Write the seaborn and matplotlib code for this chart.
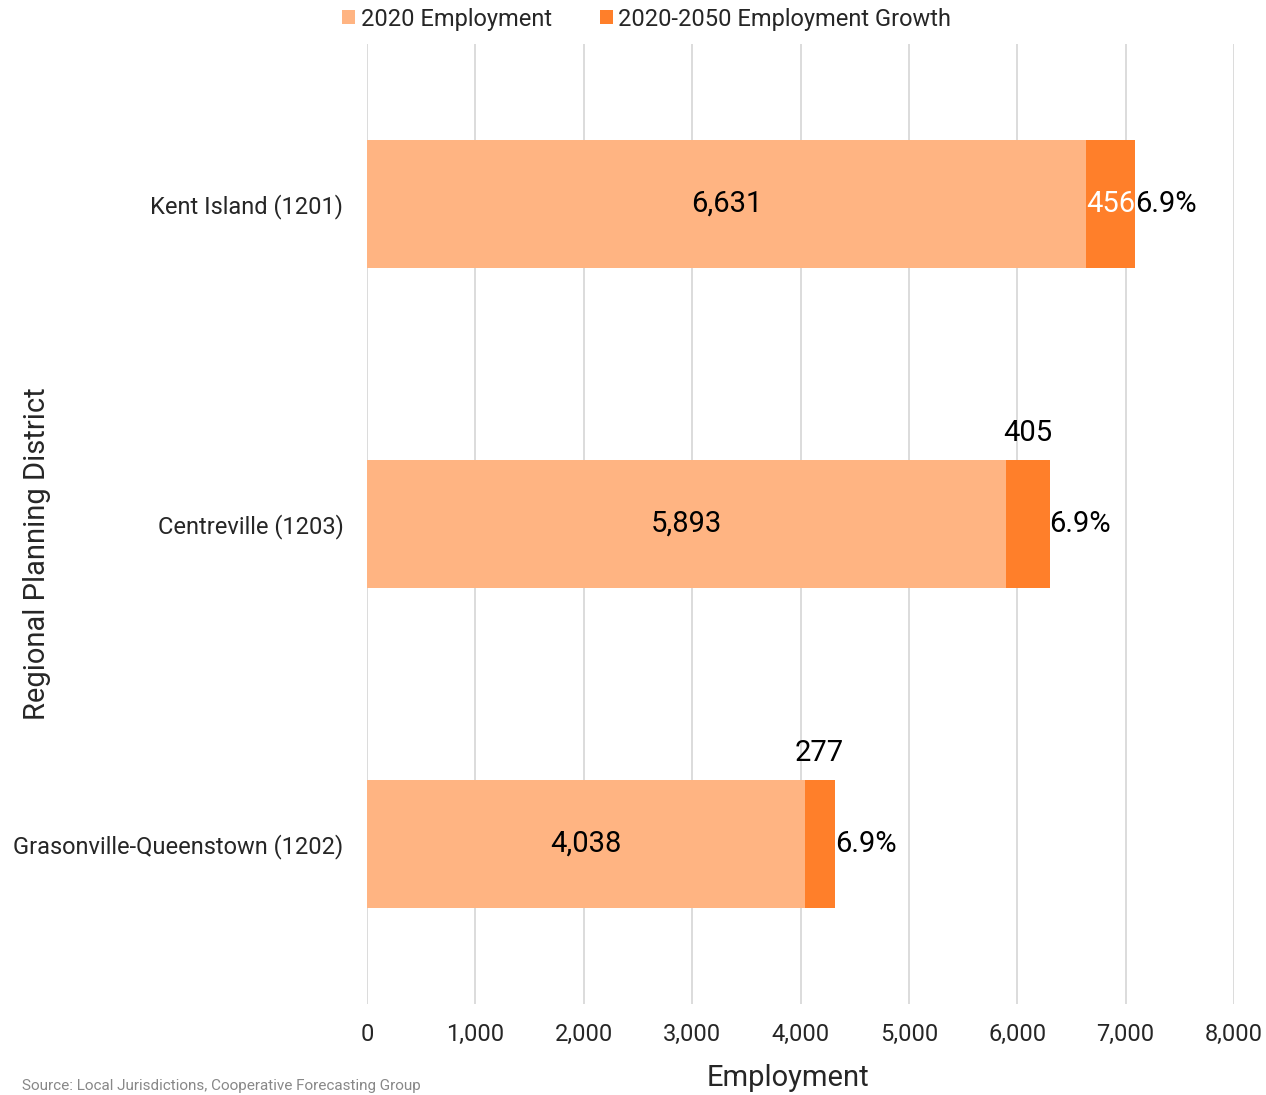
import matplotlib
matplotlib.use("Agg")
import matplotlib.pyplot as plt
import seaborn as sns
import pandas as pd
from matplotlib.patches import Patch

districts = ["Kent Island (1201)", "Centreville (1203)", "Grasonville-Queenstown (1202)"]
emp_2020 = [6631, 5893, 4038]
growth = [456, 405, 277]
growth_pct = ["6.9%", "6.9%", "6.9%"]
x_ticks = [0, 1000, 2000, 3000, 4000, 5000, 6000, 7000, 8000]

sns.set_theme(style="white")
plt.rcParams["font.family"] = ["Roboto", "DejaVu Sans"]

LIGHT = "#FFB482"
DARK = "#FF7F2A"

df = pd.DataFrame({
    "district": districts,
    "base": emp_2020,
    "growth": growth,
    "total": [b + g for b, g in zip(emp_2020, growth)],
})

fig = plt.figure(figsize=(12.66, 10.95), dpi=100)
ax = fig.add_axes([367/1266, 1 - 1004/1095, (1234 - 367)/1266, (1004 - 44)/1095])

sns.barplot(data=df, y="district", x="total", orient="h", color=DARK,
            width=0.4, saturation=1, ax=ax, zorder=2, linewidth=0)
sns.barplot(data=df, y="district", x="base", orient="h", color=LIGHT,
            width=0.4, saturation=1, ax=ax, zorder=3, linewidth=0)

ax.set_xlim(0, 8000)
ax.set_ylim(2.5, -0.5)
ax.set_xticks(x_ticks)
ax.set_xticklabels([f"{v:,}" for v in x_ticks], fontsize=17)
ax.tick_params(axis="y", labelsize=17, length=0, pad=17)
ax.tick_params(axis="x", length=0, pad=14)
ax.grid(axis="x", color="#d9d9d9", linewidth=1.3, zorder=0)
ax.set_axisbelow(True)
for s in ax.spines.values():
    s.set_visible(False)

ax.set_xlabel("Employment", fontsize=21)
ax.xaxis.set_label_coords((788 - 367) / 867, -0.0625)
ax.set_ylabel("Regional Planning District", fontsize=21)
ax.yaxis.set_label_coords((51 - 367) / 867, 0.469)

for i, (b, g, p) in enumerate(zip(emp_2020, growth, growth_pct)):
    ax.text(b / 2, i, f"{b:,}", ha="center", va="center", fontsize=21, color="black", zorder=5)
    if i == 0:
        ax.text(b + g / 2, i, f"{g:,}", ha="center", va="center", fontsize=21, color="white", zorder=5)
    else:
        ax.text(b + g / 2, i - 0.24, f"{g:,}", ha="center", va="bottom", fontsize=21, color="black", zorder=5)
    ax.text(b + g, i, p, ha="left", va="center", fontsize=21, color="black", zorder=5)

handles = [Patch(facecolor=LIGHT, edgecolor="none"), Patch(facecolor=DARK, edgecolor="none")]
fig.legend(handles, ["2020 Employment", "2020-2050 Employment Growth"],
           loc="upper center", bbox_to_anchor=(0.511, 1.0125), ncol=2, frameon=False,
           fontsize=17, handlelength=0.55, handleheight=0.55, handletextpad=0.25,
           columnspacing=2.0)

fig.text(22/1266, 0.002, "Source: Local Jurisdictions, Cooperative Forecasting Group",
         ha="left", va="bottom", fontsize=11, color="#888888")

fig.savefig("out.png", dpi=100)
